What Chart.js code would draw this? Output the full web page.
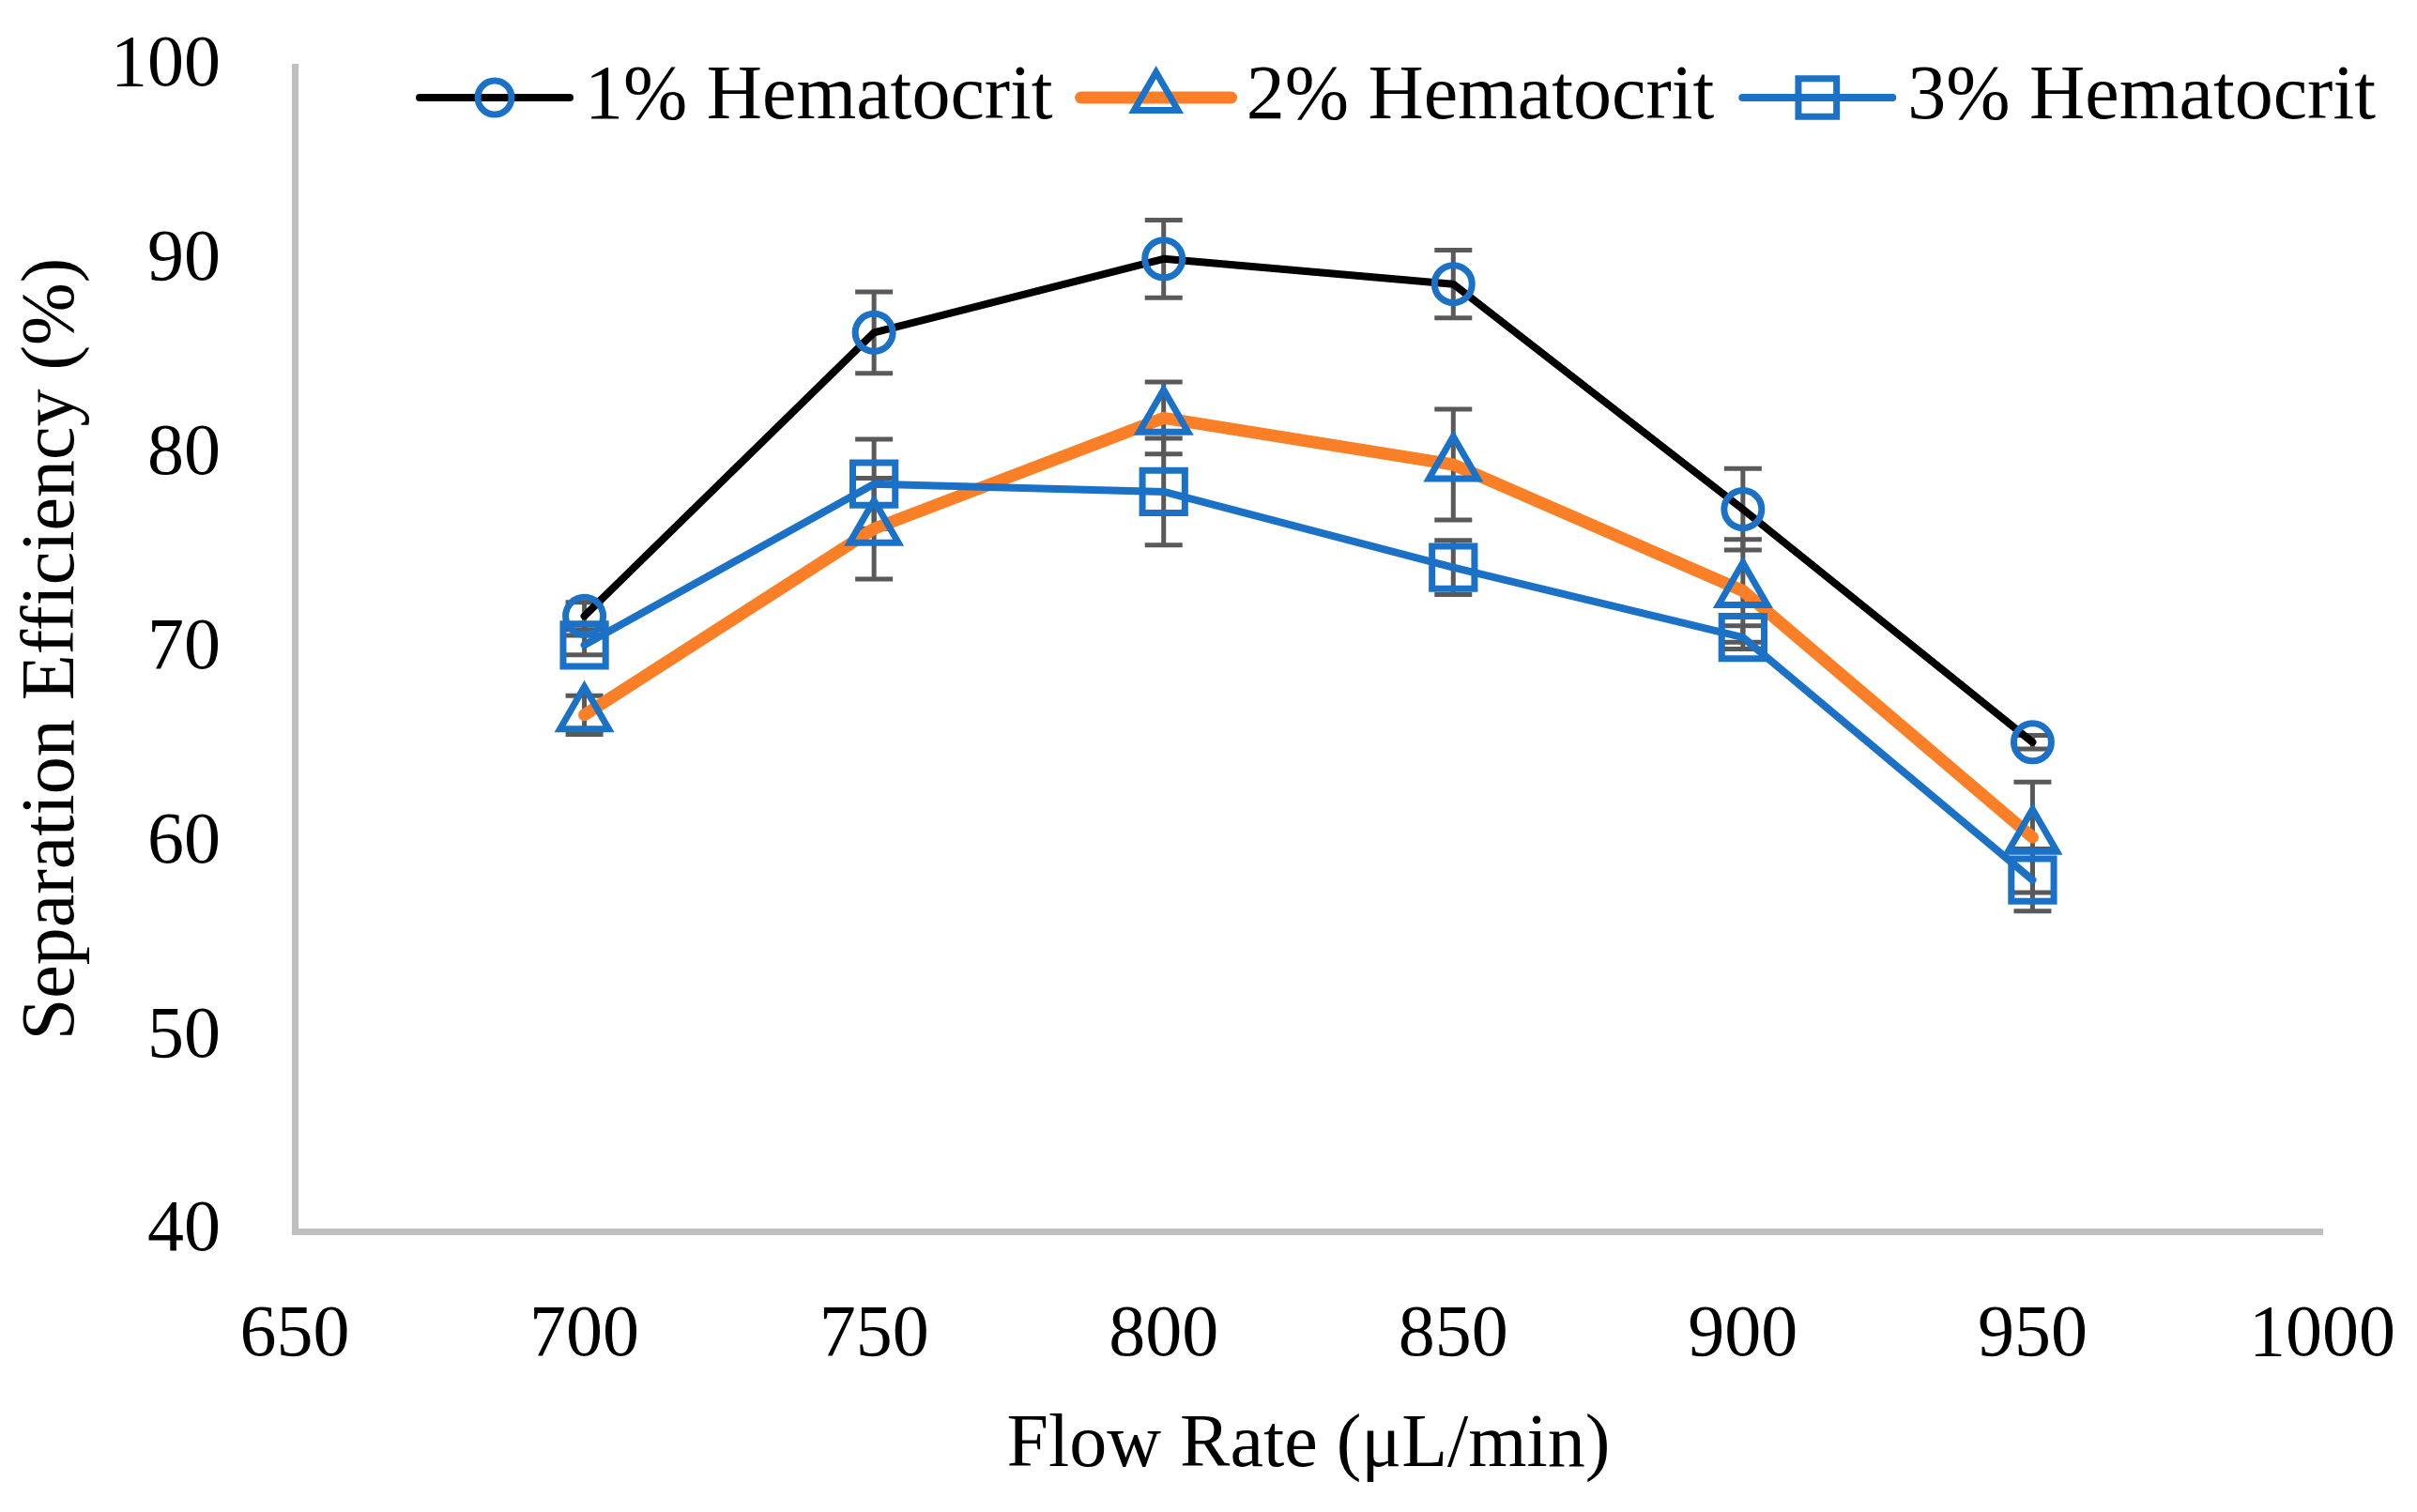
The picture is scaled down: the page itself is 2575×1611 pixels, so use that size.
<!DOCTYPE html>
<html>
<head>
<meta charset="utf-8">
<script src="https://cdn.jsdelivr.net/npm/chart.js@4"></script>
<style>
  html, body { margin: 0; padding: 0; background: #fff; }
  canvas { display: block; }
</style>
</head>
<body>
<canvas id="chart" width="2575" height="1611"></canvas>
<script>
// Separation efficiency vs flow rate, three hematocrit levels
const flowRates = [700, 750, 800, 850, 900, 950];

const hct1    = [71.7, 86.3, 90.1, 88.8, 77.2, 65.2];
const hct1Err = [0.7, 2.1, 2.0, 1.75, 2.1, 0.35];
const hct2    = [66.6, 76.2, 81.9, 79.5, 73.0, 60.3];
const hct2Err = [1.0, 2.6, 1.85, 2.85, 2.65, 2.85];
const hct3    = [70.2, 78.5, 78.1, 74.2, 70.6, 58.1];
const hct3Err = [0.5, 2.3, 2.75, 1.4, 0.6, 1.6];

const seriesLabels = ['1% Hematocrit', '2% Hematocrit', '3% Hematocrit'];

const FONT  = "'Liberation Serif', 'Times New Roman', serif";
const BLUE  = '#1B71C5';
const GREY  = '#595959';
const AXIS  = '#BFBFBF';

const toXY = ys => flowRates.map((x, i) => ({ x, y: ys[i] }));

// vertical error bars, drawn under lines and markers
const errorBars = {
  id: 'errorBars',
  beforeDatasetsDraw(chart) {
    const { ctx, scales: { x, y } } = chart;
    ctx.save();
    ctx.strokeStyle = GREY;
    ctx.lineWidth = 5;
    chart.data.datasets.forEach(ds => {
      ds.data.forEach((p, i) => {
        const e  = ds.errors[i];
        const px = x.getPixelForValue(p.x);
        const top = y.getPixelForValue(p.y + e);
        const bot = y.getPixelForValue(p.y - e);
        ctx.beginPath();
        ctx.moveTo(px, top); ctx.lineTo(px, bot);
        ctx.moveTo(px - 20, top); ctx.lineTo(px + 20, top);
        ctx.moveTo(px - 20, bot); ctx.lineTo(px + 20, bot);
        ctx.stroke();
      });
    });
    ctx.restore();
  }
};

// Excel-like legend: line sample with marker, then label
const lineLegend = {
  id: 'lineLegend',
  afterDraw(chart) {
    const ctx = chart.ctx;
    ctx.save();
    ctx.font = '82px ' + FONT;
    ctx.textBaseline = 'middle';
    let xPos = 443;
    const yPos = 104;
    chart.data.datasets.forEach(ds => {
      ctx.strokeStyle = ds.borderColor;
      ctx.lineWidth = ds.borderWidth;
      ctx.lineCap = 'round';
      ctx.beginPath();
      ctx.moveTo(xPos + 4, yPos); ctx.lineTo(xPos + 164, yPos);
      ctx.stroke();
      ctx.strokeStyle = ds.pointBorderColor;
      ctx.fillStyle = 'rgba(0,0,0,0)';
      ctx.lineWidth = ds.pointBorderWidth;
      Chart.helpers.drawPoint(ctx, {
        pointStyle: ds.pointStyle, radius: ds.pointRadius * 0.9, rotation: 0, borderWidth: ds.pointBorderWidth
      }, xPos + 84, yPos);
      ctx.fillStyle = '#000';
      ctx.fillText(ds.label, xPos + 180, yPos);
      xPos += 180 + ctx.measureText(ds.label).width + 26;
    });
    ctx.restore();
  }
};

const commonLine = {
  fill: false,
  tension: 0,
  borderJoinStyle: 'round',
  borderCapStyle: 'round',
  pointBorderColor: BLUE,
  pointBackgroundColor: 'rgba(0,0,0,0)',
  pointBorderWidth: 7,
  pointHoverRadius: 0
};

new Chart(document.getElementById('chart'), {
  type: 'line',
  data: {
    datasets: [
      Object.assign({}, commonLine, {
        label: seriesLabels[0], data: toXY(hct1), errors: hct1Err,
        borderColor: '#000000', borderWidth: 8,
        pointStyle: 'circle', pointRadius: 20, order: 3
      }),
      Object.assign({}, commonLine, {
        label: seriesLabels[1], data: toXY(hct2), errors: hct2Err,
        borderColor: '#FB7F26', borderWidth: 13,
        pointStyle: 'triangle', pointRadius: 30, order: 2
      }),
      Object.assign({}, commonLine, {
        label: seriesLabels[2], data: toXY(hct3), errors: hct3Err,
        borderColor: BLUE, borderWidth: 8,
        pointStyle: 'rect', pointRadius: 32, order: 1
      })
    ]
  },
  options: {
    responsive: false,
    devicePixelRatio: 1,
    animation: false,
    layout: { padding: { top: 71, right: 101, bottom: 0, left: 0 } },
    plugins: {
      legend: { display: false },
      tooltip: { enabled: false }
    },
    scales: {
      x: {
        type: 'linear',
        min: 650, max: 1000,
        // fixed band height, no extra edge padding from the tick labels
        afterFit: s => { s.height = 299; s.paddingLeft = 0; s.paddingRight = 0; },
        grid: { display: false, drawTicks: false },
        border: { display: true, color: AXIS, width: 7 },
        ticks: {
          stepSize: 50, color: '#000', padding: 65,
          font: { family: FONT, size: 78 },
          callback: v => String(v)
        },
        title: {
          display: true, text: 'Flow Rate (μL/min)', color: '#000',
          font: { family: FONT, size: 80, lineHeight: 1.2 }, padding: { top: 0, bottom: 22 }
        }
      },
      y: {
        min: 40, max: 100,
        afterFit: s => { s.width = 314; s.paddingTop = 0; s.paddingBottom = 0; },
        grid: { display: false, drawTicks: false },
        border: { display: true, color: AXIS, width: 7 },
        ticks: { stepSize: 10, color: '#000', padding: 79, font: { family: FONT, size: 78 } },
        title: {
          display: true, text: 'Separation Efficiency (%)', color: '#000',
          font: { family: FONT, size: 80, lineHeight: 1 }, padding: { top: 17, bottom: 0 }
        }
      }
    }
  },
  plugins: [errorBars, lineLegend]
});
</script>
</body>
</html>
